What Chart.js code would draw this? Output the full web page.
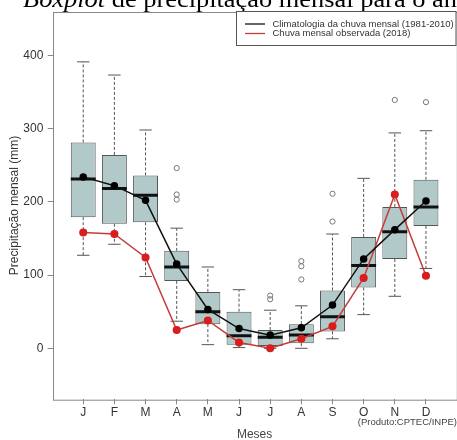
<!DOCTYPE html>
<html>
<head>
<meta charset="utf-8">
<script src="https://cdn.jsdelivr.net/npm/chart.js@4.4.1/dist/chart.umd.min.js"></script>
<style>
  html, body { margin: 0; padding: 0; background: #fff; overflow: hidden; }
  #wrap { width: 462px; height: 440px; }
</style>
</head>
<body>
<div id="wrap"><canvas id="chart" width="462" height="440"></canvas></div>
<script>
// meses e valores (mm)
const months = ['J', 'F', 'M', 'A', 'M', 'J', 'J', 'A', 'S', 'O', 'N', 'D'];
const whiskerLow = [127, 142, 98, 37, 5, 1, 0, 0, 13, 46, 71, 109];
const q1 = [179, 170, 172, 92, 33, 5, 3, 7, 23, 83, 122, 167];
const median = [231, 218, 209, 111, 50, 17, 15, 18, 43, 113, 159, 193];
const q3 = [281, 264, 236, 133, 77, 50, 25, 33, 79, 152, 193, 230];
const whiskerHigh = [391, 373, 298, 164, 111, 80, 52, 58, 156, 232, 294, 297];
const outliers = [[], [], [], [246, 210, 203], [], [], [72, 67], [119, 112, 94], [211, 173], [], [339], [336]];
const climMean = [234, 222, 202, 115, 53, 27, 18, 28, 59, 122, 162, 201];
const observed2018 = [158, 156, 124, 25, 38, 8, 0, 13, 30, 96, 210, 99];
const yTicks = [0, 100, 200, 300, 400];

const FONT = "'Liberation Sans', Arial, sans-serif";

// segmentos (x, y) separados por pontos nulos
function segments(list) {
  const out = [];
  list.forEach(s => { out.push(s[0], s[1], { x: s[1].x, y: null }); });
  return out;
}

const whiskerData = segments(months.flatMap((m, i) => [
  [{ x: i + 1, y: q3[i] }, { x: i + 1, y: whiskerHigh[i] }],
  [{ x: i + 1, y: q1[i] }, { x: i + 1, y: whiskerLow[i] }]
]));
const capData = segments(months.flatMap((m, i) => [
  [{ x: i + 0.8, y: whiskerHigh[i] }, { x: i + 1.2, y: whiskerHigh[i] }],
  [{ x: i + 0.8, y: whiskerLow[i] }, { x: i + 1.2, y: whiskerLow[i] }]
]));
const medianData = segments(months.map((m, i) =>
  [{ x: i + 0.6, y: median[i] }, { x: i + 1.4, y: median[i] }]));
const outlierData = outliers.flatMap((vals, i) => vals.map(v => ({ x: i + 1, y: v })));

// moldura, título, legenda e crédito
const extras = {
  id: 'extras',
  afterDraw(chart) {
    const { ctx, chartArea: a } = chart;
    ctx.save();
    ctx.strokeStyle = '#888';
    ctx.lineWidth = 1;
    ctx.strokeRect(Math.round(a.left) + 0.5, Math.round(a.top) + 0.5, a.right - a.left, a.bottom - a.top);

    // título (cortado no topo, como no original)
    ctx.fillStyle = '#000';
    ctx.textBaseline = 'alphabetic';
    ctx.textAlign = 'left';
    ctx.save();
    ctx.translate(23, 6.5);
    ctx.scale(1.1, 1);
    ctx.font = "italic 24px 'Liberation Serif', 'Times New Roman', serif";
    ctx.fillText('Boxplot', 0, 0);
    const w = ctx.measureText('Boxplot').width;
    ctx.font = "24px 'Liberation Serif', 'Times New Roman', serif";
    ctx.fillText(' de precipitação mensal para o ano de 2018', w, 0);
    ctx.restore();

    // legenda
    const lx = 236.5, ly = 11.5, lw = 219.5, lh = 34;
    ctx.fillStyle = '#fff';
    ctx.fillRect(lx, ly, lw, lh);
    ctx.strokeStyle = '#555';
    ctx.strokeRect(lx, ly, lw, lh);
    const items = chart.data.datasets.filter(d => d.label);
    ctx.font = '9.5px ' + FONT;
    ctx.textBaseline = 'middle';
    items.forEach((d, k) => {
      const y = 24 + k * 9.5;
      ctx.strokeStyle = d.borderColor;
      ctx.lineWidth = 1.3;
      ctx.beginPath();
      ctx.moveTo(245, y);
      ctx.lineTo(265, y);
      ctx.stroke();
      ctx.fillStyle = '#333';
      ctx.fillText(d.label, 272.5, y);
    });

    ctx.font = '9.5px ' + FONT;
    ctx.fillStyle = '#444';
    ctx.textAlign = 'right';
    ctx.fillText('(Produto:CPTEC/INPE)', 457, 422);
    ctx.restore();
  }
};

new Chart(document.getElementById('chart'), {
  type: 'bar',
  data: {
    datasets: [
      {
        type: 'line',
        label: 'Climatologia da chuva mensal (1981-2010)',
        data: climMean.map((v, i) => ({ x: i + 1, y: v })),
        borderColor: '#111',
        borderWidth: 1.5,
        pointRadius: 3,
        pointBackgroundColor: '#000',
        pointBorderColor: '#000',
        order: 1
      },
      {
        type: 'line',
        label: 'Chuva mensal observada (2018)',
        data: observed2018.map((v, i) => ({ x: i + 1, y: v })),
        borderColor: '#c43c3c',
        borderWidth: 1.5,
        pointRadius: 3.3,
        pointBackgroundColor: '#d81e1e',
        pointBorderColor: '#d81e1e',
        order: 2
      },
      {
        type: 'scatter',
        data: outlierData,
        pointRadius: 2.6,
        pointBorderWidth: 1,
        pointBorderColor: '#777',
        pointBackgroundColor: 'rgba(0,0,0,0)',
        order: 4
      },
      {
        type: 'line',
        data: medianData,
        borderColor: '#111',
        borderWidth: 3,
        pointRadius: 0,
        spanGaps: false,
        order: 5
      },
      {
        type: 'line',
        data: capData,
        borderColor: '#555',
        borderWidth: 1,
        pointRadius: 0,
        spanGaps: false,
        order: 8
      },
      {
        type: 'line',
        data: whiskerData,
        borderColor: '#555',
        borderWidth: 1,
        borderDash: [3, 2],
        pointRadius: 0,
        spanGaps: false,
        order: 9
      },
      {
        type: 'bar',
        data: months.map((m, i) => ({ x: i + 1, y: [q1[i], q3[i]] })),
        backgroundColor: '#b2c9c9',
        borderColor: '#555',
        borderWidth: 1,
        borderSkipped: false,
        barPercentage: 0.8,
        categoryPercentage: 1,
        order: 10
      }
    ]
  },
  options: {
    responsive: false,
    animation: false,
    layout: { padding: { top: 11.4, right: 4.3, left: 0, bottom: 0 } },
    plugins: {
      legend: { display: false },
      tooltip: { enabled: false },
      title: { display: false }
    },
    scales: {
      x: {
        type: 'linear',
        offset: false,
        min: 0.02,
        max: 12.98,
        afterBuildTicks: s => { s.ticks = months.map((m, i) => ({ value: i + 1 })); },
        afterFit: s => { s.height = 40.7; },
        grid: { offset: false, drawOnChartArea: false, drawTicks: true, tickLength: 5, color: '#888' },
        border: { display: false },
        ticks: {
          autoSkip: false,
          maxRotation: 0,
          padding: 1,
          color: '#333',
          font: { family: FONT, size: 12 },
          callback: v => months[v - 1]
        },
        title: {
          display: true,
          text: 'Meses',
          color: '#444',
          font: { family: FONT, size: 12, lineHeight: 1 },
          padding: { top: 0, bottom: -1 }
        }
      },
      y: {
        min: -69.6,
        max: 459.6,
        afterBuildTicks: s => { s.ticks = yTicks.map(v => ({ value: v })); },
        afterFit: s => { s.width = 52.7; },
        grid: { drawOnChartArea: false, drawTicks: true, tickLength: 5, color: '#888' },
        border: { display: false },
        ticks: {
          padding: 4.4,
          color: '#333',
          font: { family: FONT, size: 12 }
        },
        title: {
          display: true,
          text: 'Precipitação mensal (mm)',
          color: '#333',
          font: { family: FONT, size: 12, lineHeight: 1.2 },
          padding: { top: 7.3, bottom: 0 }
        }
      }
    }
  },
  plugins: [extras]
});
</script>
</body>
</html>
